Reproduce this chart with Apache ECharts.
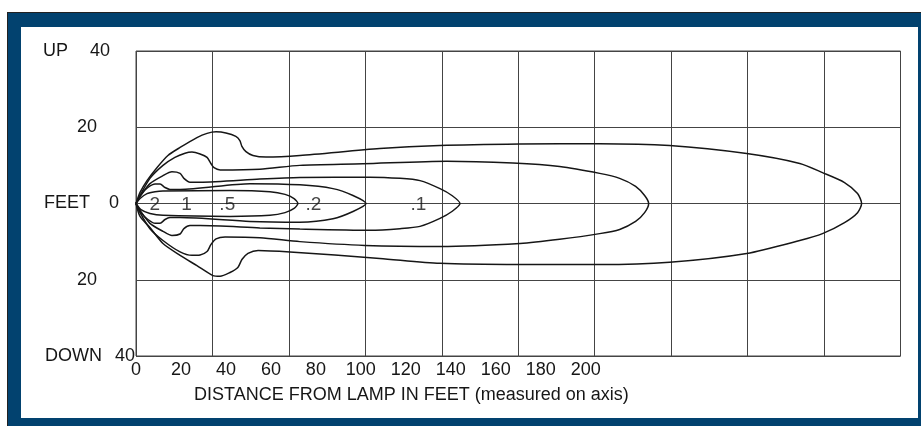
<!DOCTYPE html>
<html lang="en">
<head>
<meta charset="UTF-8">
<title>Lamp distribution</title>
<script src="https://cdn.jsdelivr.net/npm/echarts@6/dist/echarts.min.js"></script>
<style>
  html, body { margin: 0; padding: 0; background: #fff; }
  #frame { position: absolute; left: 7px; top: 12px; width: 913px; height: 413px;
           background: #02426f; border-top: 1px solid #222; border-left: 1px solid #222; }
  #inner { position: absolute; left: 21px; top: 27px; width: 897px; height: 391px; background: #fff; }
  #main { position: absolute; left: 0; top: 0; width: 921px; height: 426px; }
</style>
</head>
<body>
<div id="frame"></div>
<div id="inner"></div>
<div id="main"></div>
<script>
  // x in feet along the axis, y in feet up (+) / down (-)
  const xTickLabelMax = 200;
  const yTicks = [-40, -20, 0, 20, 40];

  // contour ".5" (innermost)
  const c1Upper = [[0,0],[1.8,1.3],[4.9,2.6],[8.5,3.1],[12,3.3],[41.8,3.4],[59.6,3.1],[66.3,2.4],[70.3,1.3],[72,0]];
  const c1Lower = [[0,0],[2.2,-1.6],[6.2,-2.6],[12,-3.1],[41.8,-3.4],[59.6,-3.1],[66.3,-2.4],[70.3,-1.3],[72,0]];
  // contour ".2"
  const c2Upper = [[0,0],[2.2,2.4],[5.3,4.2],[8.5,5.1],[10.7,5.1],[12.9,4.2],[15.1,3.7],[19.6,3.7],[50.7,5.2],[72.9,4.9],[87.6,3.9],[96.5,2.1],[102.3,0]];
  const c2Lower = [[0,0],[2.2,-2.4],[5.3,-4.2],[8.5,-5.2],[10.7,-5.2],[12.9,-4.2],[15.1,-3.7],[19.6,-3.7],[50.7,-4.7],[72.9,-4.9],[87.6,-4.0],[96.5,-2.1],[102.3,0]];
  // contour ".1"
  const c3Upper = [[0,0],[1.8,1.8],[6.2,5.2],[12,7.3],[16,8.3],[19.6,7.9],[21.3,6.6],[24,5.6],[28.5,5.6],[55.1,6.4],[72.9,6.8],[104,6.9],[117.4,6.6],[126.3,6.0],[135.2,3.9],[140.5,2.1],[144.1,0]];
  const c3Lower = [[0,0],[1.8,-1.8],[6.2,-5.2],[12,-7.3],[16,-8.4],[19.6,-8.0],[21.3,-6.6],[24,-5.8],[28.5,-5.8],[55.1,-6.4],[72.9,-6.7],[104,-7.0],[117.4,-6.6],[126.3,-6.0],[135.2,-3.9],[140.5,-2.1],[144.1,0]];
  // contour 4
  const c4Upper = [[0,0],[1.8,2.1],[6.2,6.6],[12,10],[17.3,12.1],[21.8,13.2],[24.9,13.5],[28.5,13],[31.6,12.1],[33.3,10.5],[34.7,9.4],[37.4,8.8],[55.1,9.0],[72.9,10],[100.9,10.4],[138.2,11.1],[167.6,10.6],[188.4,9.7],[206.2,7.9],[215.1,6.6],[222.2,4.5],[226.2,2.1],[228,0]];
  const c4Lower = [[0,0],[1.8,-2.4],[6.2,-6.6],[12,-9.7],[19.6,-12.7],[24.9,-13.6],[28.5,-13.5],[31.6,-12.6],[33.3,-10.8],[35.6,-9.3],[39.6,-8.8],[55.1,-9.0],[72.9,-10],[101.8,-11],[135.2,-11.3],[170.8,-10.5],[188.4,-9.4],[206.2,-7.9],[215.1,-6.8],[222.2,-4.7],[226.2,-2.4],[228,0]];
  // contour 5 (outermost)
  const c5Upper = [[0,0],[1.8,2.9],[4.9,6.0],[9.3,9.4],[14.2,12.6],[19.6,14.7],[27.1,17.3],[31.6,18.4],[35.6,18.8],[40,18.5],[44.4,17.6],[46.2,16.5],[47.1,15],[48.9,13.6],[52,12.6],[57.8,12.2],[72.9,12.6],[108.4,14.4],[135.1,15.2],[170.7,15.6],[206.2,15.7],[237.3,15.2],[271.6,13.1],[295.2,10.5],[305.3,8.1],[315.1,5.5],[320.9,2.6],[322.7,0]];
  const c5Lower = [[0,0],[1.8,-3.4],[6.2,-6.3],[12,-10.5],[19.6,-13.6],[27.1,-16.3],[34.2,-18.9],[37.4,-19.1],[41.8,-18.1],[45.3,-16.8],[47.1,-14.7],[49.8,-13.1],[54.3,-12.3],[68.5,-12.7],[108.4,-14.4],[135.1,-15.7],[170.7,-16],[206.2,-16],[237.3,-15.4],[271.6,-13.1],[295.2,-9.7],[305.3,-7.9],[315.1,-5],[320.9,-2.4],[322.7,0]];

  const contourLabels = ['2', '1', '.5', '.2', '.1'];
  const contourLabelX = [8.4, 22.5, 40.6, 78.9, 125.6];

  const contours = [[c1Upper, c1Lower], [c2Upper, c2Lower], [c3Upper, c3Lower], [c4Upper, c4Lower], [c5Upper, c5Lower]];

  const font = "'Liberation Sans', Arial, sans-serif";
  const ink = '#161616';
  const chart = echarts.init(document.getElementById('main'));

  const series = contours.map(function (c) {
    return {
      type: 'line',
      data: c[0].concat(c[1].slice().reverse()),
      showSymbol: false,
      smooth: 0.25,
      lineStyle: { color: ink, width: 1.5 },
      silent: true
    };
  });
  series.push({
    type: 'scatter',
    symbolSize: 0,
    itemStyle: { color: 'transparent' },
    data: contourLabels.map(function (t, i) { return { name: t, value: [contourLabelX[i], 0] }; }),
    label: {
      show: true, position: [0, 1], align: 'center', verticalAlign: 'middle',
      formatter: '{b}',
      rich: {},
      textStyle: { fontSize: 19 },
      color: ink, fontSize: 19, fontFamily: font
    },
    silent: true
  });

  const option = {
    animation: false,
    title: {
      text: 'DISTANCE FROM LAMP IN FEET (measured on axis)',
      left: 189, top: 381,
      textStyle: { fontSize: 18, fontWeight: 'normal', color: ink, fontFamily: font }
    },
    grid: { left: 136, top: 51, right: 20.5, bottom: 70, show: true, borderColor: '#444', borderWidth: 1 },
    xAxis: [{
      type: 'value', min: 0, max: 340, interval: 20,
      axisLine: { show: false }, axisTick: { show: false }, splitLine: { show: false },
      axisLabel: {
        margin: 5, fontSize: 18, color: ink, fontFamily: font,
        formatter: function (v) { return v <= xTickLabelMax ? String(v) : ''; }
      }
    }, {
      type: 'value', min: 0, max: 340, interval: 34, position: 'bottom',
      axisLine: { show: false }, axisTick: { show: false }, axisLabel: { show: false },
      splitLine: { show: true, lineStyle: { color: '#444', width: 1 } }
    }],
    yAxis: {
      type: 'value', min: yTicks[0], max: yTicks[yTicks.length - 1], interval: 20,
      axisLine: { show: false }, axisTick: { show: false },
      splitLine: { show: true, lineStyle: { color: '#444', width: 1 } },
      axisLabel: {
        margin: 0, fontSize: 18, color: ink, fontFamily: font,
        formatter: function (v) {
          if (v === 40) return '{wu|UP}{n40|' + Math.abs(v) + '}';
          if (v === 0) return '{wf|FEET}{n0|' + v + '}';
          if (v === -40) return '{wd|DOWN}{nd|' + Math.abs(v) + '}';
          return '{n20|' + Math.abs(v) + '}';
        },
        rich: {
          wu: { width: 47, align: 'left', fontSize: 18, fontFamily: font, color: ink },
          wf: { width: 65, align: 'left', fontSize: 18, fontFamily: font, color: ink },
          wd: { width: 70, align: 'left', fontSize: 18, fontFamily: font, color: ink },
          n40: { padding: [0, 26, 0, 0], fontSize: 18, fontFamily: font, color: ink },
          n20: { padding: [0, 39, 0, 0], fontSize: 18, fontFamily: font, color: ink },
          n0: { padding: [0, 17, 0, 0], fontSize: 18, fontFamily: font, color: ink },
          nd: { padding: [0, 1, 0, 0], fontSize: 18, fontFamily: font, color: ink }
        }
      }
    },
    series: series
  };
  chart.setOption(option);
</script>
</body>
</html>
